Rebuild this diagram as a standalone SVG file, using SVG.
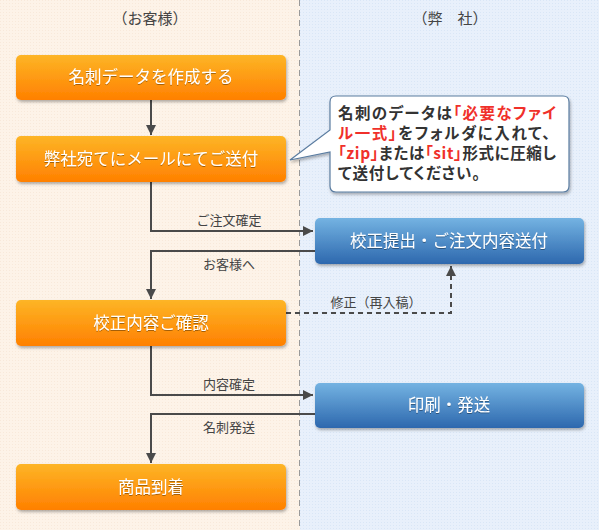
<svg xmlns="http://www.w3.org/2000/svg" width="599" height="530" viewBox="0 0 599 530">
<defs>
<linearGradient id="gOr" x1="0" y1="0" x2="0" y2="1">
<stop offset="0" stop-color="#fdb526"/>
<stop offset="1" stop-color="#ff8000"/>
</linearGradient>
<linearGradient id="gBl" x1="0" y1="0" x2="0" y2="1">
<stop offset="0" stop-color="#74b3e2"/>
<stop offset="1" stop-color="#2d68ae"/>
</linearGradient>
<pattern id="pL" width="3" height="3" patternUnits="userSpaceOnUse">
<rect width="3" height="3" fill="#fdf3e8"/>
<rect width="1" height="1" fill="#f8e9da"/>
</pattern>
<pattern id="pR" width="3" height="3" patternUnits="userSpaceOnUse">
<rect width="3" height="3" fill="#e8f0fb"/>
<rect width="1" height="1" fill="#d9e6f6"/>
</pattern>
<filter id="sh" x="-10%" y="-20%" width="120%" height="150%">
<feDropShadow dx="1" dy="2" stdDeviation="1.5" flood-color="#000" flood-opacity="0.3"/>
</filter>
<filter id="ts" x="-5%" y="-20%" width="110%" height="140%">
<feDropShadow dx="0" dy="1" stdDeviation="0.6" flood-color="#000" flood-opacity="0.35"/>
</filter>
<marker id="ah" viewBox="0 0 10 10" refX="10" refY="5" markerWidth="10" markerHeight="10" markerUnits="userSpaceOnUse" orient="auto">
<path d="M0,0 L10,5 L0,10 Z" fill="#4a4a4a"/>
</marker>
</defs>
<style>
.hd{font-family:"Noto Sans CJK JP","Noto Sans CJK SC",sans-serif;font-size:15px;fill:#444;text-anchor:middle}
.nt{font-family:"Noto Sans CJK JP","Noto Sans CJK SC",sans-serif;font-size:16.5px;fill:#fff;text-anchor:middle}
.lb{font-family:"Noto Sans CJK JP","Noto Sans CJK SC",sans-serif;font-size:13px;fill:#444;text-anchor:middle}
.ct{font-family:"Noto Sans CJK JP","Noto Sans CJK SC",sans-serif;font-size:15.5px;font-weight:bold;fill:#333;font-feature-settings:"palt"}
.rd{fill:#f0302a}
.ln{fill:none;stroke:#4a4a4a;stroke-width:2}
.or{fill:url(#gOr)}
.bl{fill:url(#gBl)}
</style>
<rect x="0" y="0" width="300" height="530" fill="url(#pL)"/>
<rect x="300" y="0" width="299" height="530" fill="url(#pR)"/>
<line x1="299.5" y1="0" x2="299.5" y2="530" stroke="#999" stroke-width="1" stroke-dasharray="6,4"/>
<text class="hd" x="150" y="24">（お客様）</text>
<text class="hd" x="450" y="24">（弊　社）</text>

<g id="connectors">
<line class="ln" x1="151" y1="100" x2="151" y2="135" marker-end="url(#ah)"/>
<polyline class="ln" points="151,182 151,231 313,231" marker-end="url(#ah)"/>
<text class="lb" x="229" y="225">ご注文確定</text>
<polyline class="ln" points="315,251 151,251 151,299" marker-end="url(#ah)"/>
<text class="lb" x="229" y="269">お客様へ</text>
<polyline class="ln" points="286,313 451,313 451,266" stroke-dasharray="5,4" marker-end="url(#ah)"/>
<text class="lb" x="376" y="307">修正（再入稿）</text>
<polyline class="ln" points="151,346 151,395 313,395" marker-end="url(#ah)"/>
<text class="lb" x="229" y="389">内容確定</text>
<polyline class="ln" points="315,414 151,414 151,463" marker-end="url(#ah)"/>
<text class="lb" x="229" y="432">名刺発送</text>
</g>

<g id="n1"><rect class="or" x="16" y="55" width="270" height="45" rx="5" filter="url(#sh)"/><text class="nt" x="151" y="83" filter="url(#ts)">名刺データを作成する</text></g>
<g id="n2"><rect class="or" x="16" y="136" width="270" height="46" rx="5" filter="url(#sh)"/><text class="nt" x="151" y="165" filter="url(#ts)">弊社宛てにメールにてご送付</text></g>
<g id="n3"><rect class="or" x="16" y="300" width="270" height="46" rx="5" filter="url(#sh)"/><text class="nt" x="151" y="329" filter="url(#ts)">校正内容ご確認</text></g>
<g id="n4"><rect class="or" x="16" y="464" width="270" height="46" rx="5" filter="url(#sh)"/><text class="nt" x="151" y="493" filter="url(#ts)">商品到着</text></g>
<g id="n5"><rect class="bl" x="315" y="218" width="269" height="46" rx="5" filter="url(#sh)"/><text class="nt" x="449" y="247" filter="url(#ts)">校正提出・ご注文内容送付</text></g>
<g id="n6"><rect class="bl" x="315" y="383" width="269" height="45" rx="5" filter="url(#sh)"/><text class="nt" x="449" y="411" filter="url(#ts)">印刷・発送</text></g>

<g id="callout">
<path d="M336,96 H563 Q569,96 569,102 V186 Q569,192 563,192 H336 Q330,192 330,186 V152 L290,160 L330,130 V102 Q330,96 336,96 Z" fill="#fff" stroke="#5a7ca0" stroke-width="1.2" filter="url(#sh)"/>
<text class="ct" x="338" y="119" textLength="218" lengthAdjust="spacing">名刺のデータは<tspan class="rd">「必要なファイ</tspan></text>
<text class="ct" x="338" y="139" textLength="212" lengthAdjust="spacing"><tspan class="rd">ル一式」</tspan>をフォルダに入れて、</text>
<text class="ct" x="338" y="159" textLength="218" lengthAdjust="spacing"><tspan class="rd">「zip」</tspan>または<tspan class="rd">「sit」</tspan>形式に圧縮し</text>
<text class="ct" x="338" y="179" textLength="142" lengthAdjust="spacing">て送付してください。</text>
</g>
</svg>
